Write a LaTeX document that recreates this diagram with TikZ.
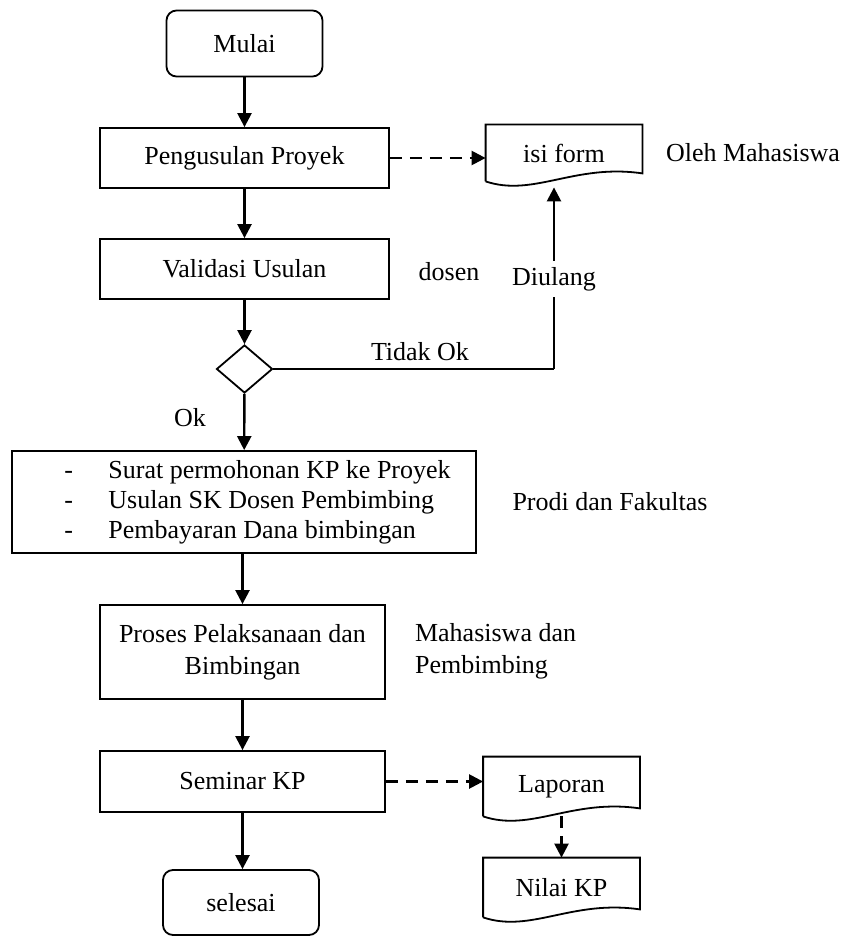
\documentclass[tikz,border=0pt]{standalone}
\usepackage{fontspec}
\setmainfont{Liberation Serif}
\usetikzlibrary{shapes.geometric,arrows.meta}

% wavy bottom of a document node
\newcommand{\docwave}[1]{%
  \draw[line width=0.9pt] (#1.south west) -- (#1.north west) -- (#1.north east) -- ([yshift=4pt]#1.south east)
    .. controls ([xshift=-34pt,yshift=9pt]#1.south east) and ([xshift=24pt,yshift=-8pt]#1.south west) .. (#1.south west);}

\begin{document}
\begin{tikzpicture}[
    x=0.5pt, y=-0.5pt,
    every node/.style={font=\fontsize{13}{16}\selectfont},
    proc/.style={rectangle, draw, line width=0.9pt, minimum width=144.5pt, minimum height=30pt, align=center},
    term/.style={rectangle, rounded corners=5pt, draw, line width=0.9pt, minimum width=78pt, minimum height=33pt},
    doc/.style={rectangle, minimum width=78pt, minimum height=28pt},
    dec/.style={diamond, draw, line width=0.9pt, minimum width=28pt, minimum height=24pt, inner sep=0pt},
    note/.style={align=left},
    arr/.style={-{Triangle[length=7pt,width=7pt]}, line width=1.2pt},
    darr/.style={arr, dash pattern=on 6pt off 4pt}
]
\useasboundingbox (0,0) rectangle (846,936);

% Nodes
\node[term] (mulai) at (244.5,43.5) {Mulai};
\node[proc] (usul) at (244.5,158) {Pengusulan Proyek};
\node[doc] (form) at (564,153) {isi form};
\node[note] (olehmhs) at (753,153) {Oleh Mahasiswa};
\node[proc] (valid) at (244.5,269) {Validasi Usulan};
\node[note] (dosen) at (449,272) {dosen};
\node[dec] (cek) at (244.5,369) {};
\node[note] (tidakok) at (420,352) {Tidak Ok};
\node[note] (ok) at (190,418) {Ok};
\coordinate (balik) at (554,369);
\node[proc, minimum width=232pt, minimum height=51pt] (syarat) at (244,502) {};
\node[anchor=west, inner sep=0pt, font=\fontsize{13}{15}\selectfont] (syaratteks) at (64,502)
    {\begin{tabular}{@{}p{22pt}@{}l@{}}
     - & Surat permohonan KP ke Proyek\\
     - & Usulan SK Dosen Pembimbing\\
     - & Pembayaran Dana bimbingan
     \end{tabular}};
\node[note] (prodi) at (610,502) {Prodi dan Fakultas};
\node[proc, minimum width=142.5pt, minimum height=47pt] (proses) at (242.5,652) {Proses Pelaksanaan dan\\Bimbingan};
\node[note, anchor=west] (mhsbimb) at (408,651) {Mahasiswa dan\\Pembimbing};
\node[proc, minimum width=142.5pt, minimum height=30.5pt] (seminar) at (242.5,781.5) {Seminar KP};
\node[term, minimum height=32.5pt] (selesai) at (241,902.5) {selesai};
\node[doc, minimum height=29.5pt] (laporan) at (561.5,786.5) {Laporan};
\node[doc, minimum height=29.5pt] (nilai) at (561.5,887.5) {Nilai KP};

% Document shapes
\docwave{form}
\docwave{laporan}
\docwave{nilai}

% Edges
\draw[arr] (mulai) -- (usul);
\draw[darr] (usul.east) -- (usul.east -| form.west);
\draw[arr] (usul) -- (valid);
\draw[arr] (valid) -- (cek);
\draw[line width=1.2pt] (cek.east) -- (balik);
\draw[arr, shorten >=3pt] (balik) -- node[pos=0.48, fill=white, inner sep=3pt] (diulang) {Diulang} (balik |- form.south);
\draw[arr] (cek) -- (syarat);
\draw[arr] (syarat.south -| proses.north) -- (proses.north);
\draw[arr] (proses) -- (seminar);
\draw[darr] (seminar.east) -- (seminar.east -| laporan.west);
\draw[arr] (seminar.south) -- (seminar.south |- selesai.north);
\draw[darr] (laporan.south) -- (nilai.north);

\end{tikzpicture}
\end{document}
